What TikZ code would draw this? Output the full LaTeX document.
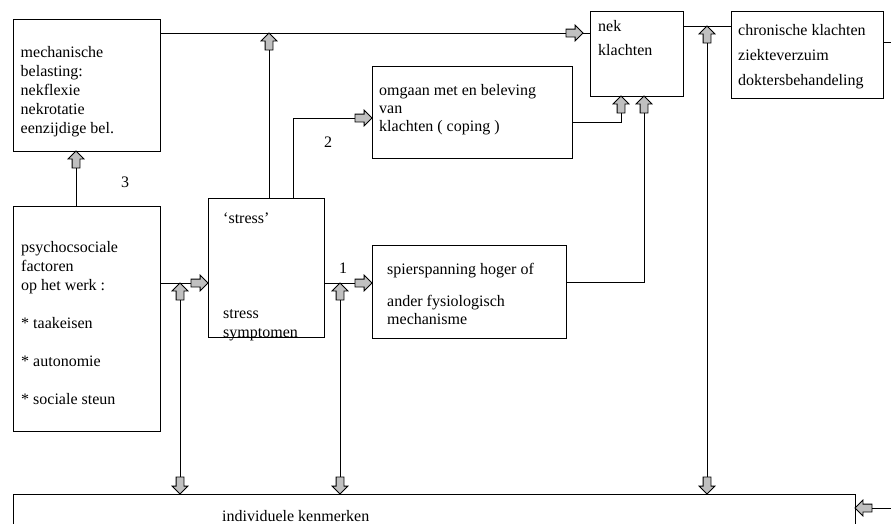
\documentclass[tikz,border=0pt]{standalone}
\usepackage{fontspec}
\setmainfont{Liberation Serif}
\usetikzlibrary{shapes.arrows, positioning}
\definecolor{arrowgray}{RGB}{192,192,192}

\begin{document}
\begin{tikzpicture}[x=1pt, y=-1pt,
    box/.style={draw, rectangle, line width=1pt, inner sep=0pt, outer sep=0pt, anchor=north west},
    txt/.style={align=left, inner sep=0pt, font=\fontsize{16}{19}\selectfont},
    conn/.style={line width=0.8pt},
    blk/.style={single arrow, draw, fill=arrowgray, line width=0.8pt, minimum height=17pt,
        text height=3.5pt, text depth=3.5pt, text width=8pt, single arrow head extend=4pt,
        inner sep=0pt, outer sep=0pt, anchor=tip},
    arrup/.style={blk, rotate=90},
    arrdown/.style={blk, rotate=-90},
    arrright/.style={blk},
    arrleft/.style={blk, rotate=180}]
    \useasboundingbox (0,0) rectangle (891,523);
    \clip (0,0) rectangle (891,523);

    % Boxes
    \node[box, minimum width=147pt, minimum height=132pt] (mech) at (13,19) {};
    \node[box, minimum width=147pt, minimum height=225pt] (psycho) at (13,206) {};
    \node[box, minimum width=116pt, minimum height=139pt] (stress) at (208,198) {};
    \node[box, minimum width=200pt, minimum height=92pt] (coping) at (372,66) {};
    \node[box, minimum width=194pt, minimum height=93pt] (spier) at (372,245) {};
    \node[box, minimum width=93pt, minimum height=85pt] (nek) at (590,11) {};
    \node[box, minimum width=152pt, minimum height=87pt] (chron) at (731,11) {};
    \node[box, minimum width=842pt, minimum height=60pt] (indiv) at (13,494) {};

    % Texts
    \node[txt, below right=25pt and 7.5pt of mech.north west] (mechtxt)
        {\strut mechanische\\belasting:\\nekflexie\\nekrotatie\\eenzijdige bel.};
    \node[txt, below right=32.7pt and 8pt of psycho.north west] (psychotxt)
        {\strut psychocsociale\\factoren\\op het werk :\\[19pt]* taakeisen\\[19pt]* autonomie\\[19pt]* sociale steun};
    \node[txt, below right=11.7pt and 15pt of stress.north west] (stresstxt)
        {\strut `stress'\\[76pt]stress\\symptomen};
    \node[txt, below right=15.7pt and 7pt of coping.north west] (copingtxt)
        {\strut omgaan met en beleving\\[-1pt]van\\[-1pt]klachten ( coping )};
    \node[txt, below right=15.7pt and 15pt of spier.north west] (spiertxt)
        {\strut spierspanning hoger of\\[13pt]ander fysiologisch\\[-1pt]mechanisme};
    \node[txt, below right=6.7pt and 8pt of nek.north west] (nektxt)
        {\strut nek\\[5pt]klachten};
    \node[txt, below right=10.7pt and 7pt of chron.north west] (chrontxt)
        {\strut chronische klachten\\[6pt]ziekteverzuim\\[6pt]doktersbehandeling};
    \node[txt, below right=13.7pt and 209pt of indiv.north west] (indivtxt)
        {\strut individuele kenmerken};

    % Path numbers
    \node[txt] (nr3) at (125,182) {3};
    \node[txt] (nr2) at (328,142) {2};
    \node[txt] (nr1) at (343,268) {1};

    % Block arrows
    \node[arrright] (a1) at (583,33) {};
    \node[arrup] (a2) at (269,33) {};
    \node[arrup] (a3) at (76,151) {};
    \node[arrright] (a4) at (372,118) {};
    \node[arrright] (a5) at (208,283) {};
    \node[arrup] (a6) at (180,283) {};
    \node[arrdown] (a7) at (180,494) {};
    \node[arrright] (a8) at (372,283) {};
    \node[arrup] (a9) at (340,283) {};
    \node[arrdown] (a10) at (340,494) {};
    \node[arrup] (a11) at (621,96) {};
    \node[arrup] (a12) at (644,96) {};
    \node[arrup] (a13) at (707,26) {};
    \node[arrdown] (a14) at (707,494) {};
    \node[arrleft] (a15) at (855,508) {};

    % Bends and free ends
    \coordinate (k4) at (293,118);
    \coordinate (k11) at (621,122);
    \coordinate (k12) at (644,282);
    \coordinate (out1) at (891,42);
    \coordinate (in1) at (891,508);

    % Connectors
    \draw[conn] (a1.tail -| mech.east) -- (a1.tail);
    \draw[conn] (a1.tip) -- (a1.tip -| nek.west);
    \draw[conn] (a2.tail) -- (a2.tail |- stress.north);
    \draw[conn] (a3.tail) -- (a3.tail |- psycho.north);
    \draw[conn] (k4 |- stress.north) -- (k4) -- (a4.tail);
    \draw[conn] (a5.tail -| psycho.east) -- (a5.tail);
    \draw[conn] (a6.tail) -- (a7.tail);
    \draw[conn] (a8.tail -| stress.east) -- (a8.tail);
    \draw[conn] (a9.tail) -- (a10.tail);
    \draw[conn] (coping.east |- k11) -- (k11) -- (a11.tail);
    \draw[conn] (spier.east |- k12) -- (k12) -- (a12.tail);
    \draw[conn] (a13.tip -| nek.east) -- (a13.tip -| chron.west);
    \draw[conn] (a13.tail) -- (a14.tail);
    \draw[conn] (out1 -| chron.east) -- (out1);
    \draw[conn] (in1) -- (a15.tail);
\end{tikzpicture}
\end{document}
